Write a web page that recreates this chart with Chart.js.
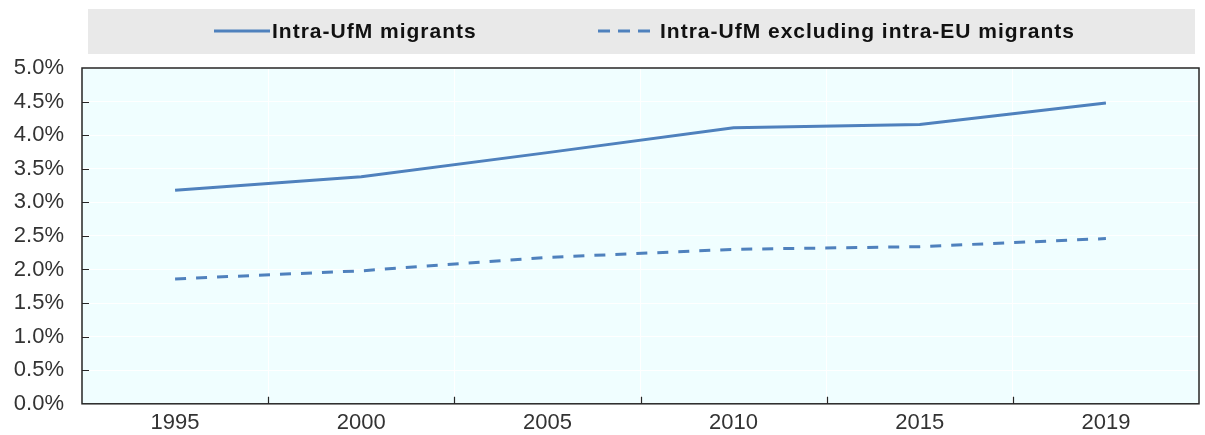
<!DOCTYPE html>
<html>
<head>
<meta charset="utf-8">
<script src="https://cdn.jsdelivr.net/npm/chart.js@4.4.1/dist/chart.umd.min.js"></script>
<style>
  html, body { margin: 0; padding: 0; background: #fff; }
  #wrap { width: 1205px; height: 435px; position: relative; }
</style>
</head>
<body>
<div id="wrap"><canvas id="myChart"></canvas></div>
<script>
const years = ["1995", "2000", "2005", "2010", "2015", "2019"];
const intraUfm = [3.18, 3.38, 3.74, 4.11, 4.16, 4.48];
const intraUfmExclEu = [1.86, 1.98, 2.18, 2.30, 2.34, 2.46];
const seriesLabels = ["Intra-UfM migrants", "Intra-UfM excluding intra-EU migrants"];
const yMin = 0;
const yMax = 5;
const yStep = 0.5;

const lineColor = "#4F81BD";
const textColor = "#333333";
const chartFont = "Liberation Sans, Arial, sans-serif";

// plot background, frame and the small inward tick marks
const frame = {
  id: "frame",
  beforeDraw(chart) {
    const { ctx, chartArea: a } = chart;
    ctx.save();
    ctx.fillStyle = "#F0FEFF";
    ctx.fillRect(a.left, a.top, a.right - a.left, a.bottom - a.top);
    ctx.restore();
  },
  afterDraw(chart) {
    const { ctx, chartArea: a, scales } = chart;
    ctx.save();
    ctx.strokeStyle = "#262626";
    ctx.lineWidth = 1.5;
    ctx.strokeRect(a.left, a.top, a.right - a.left, a.bottom - a.top);

    ctx.lineWidth = 1.2;
    ctx.beginPath();
    for (let v = yMin + yStep; v < yMax; v += yStep) {
      const y = Math.round(scales.y.getPixelForValue(v)) + 0.5;
      ctx.moveTo(a.left, y);
      ctx.lineTo(a.left + 7, y);
    }
    for (let i = 1; i < years.length; i++) {
      const x = Math.round((scales.x.getPixelForValue(i - 1) + scales.x.getPixelForValue(i)) / 2) + 0.5;
      ctx.moveTo(x, a.bottom);
      ctx.lineTo(x, a.bottom - 7);
    }
    ctx.stroke();
    ctx.restore();
  },
};

// grey legend band on top
const legendBand = {
  id: "legendBand",
  afterDraw(chart) {
    const { ctx } = chart;
    const items = [
      { start: 214, len: 56, dash: [], text: seriesLabels[0] },
      { start: 598, len: 52, dash: [12, 8], text: seriesLabels[1] },
    ];
    const midY = 31;
    ctx.save();
    ctx.fillStyle = "#E9E9E9";
    ctx.fillRect(88, 9, 1107, 45);
    items.forEach((item) => {
      ctx.strokeStyle = lineColor;
      ctx.lineWidth = 3;
      ctx.setLineDash(item.dash);
      ctx.beginPath();
      ctx.moveTo(item.start, midY);
      ctx.lineTo(item.start + item.len, midY);
      ctx.stroke();
      ctx.setLineDash([]);
      ctx.fillStyle = "#111111";
      ctx.font = "bold 21px " + chartFont;
      ctx.letterSpacing = "1px";
      ctx.textBaseline = "middle";
      ctx.textAlign = "left";
      ctx.fillText(item.text, item.start + item.len + (item.dash.length ? 10 : 2), midY + 1);
    });
    ctx.restore();
  },
};

const ctx = document.getElementById("myChart").getContext("2d");

new Chart(ctx, {
  type: "line",
  data: {
    labels: years,
    datasets: [
      {
        label: seriesLabels[0],
        data: intraUfm,
        borderColor: lineColor,
        borderWidth: 3,
        pointRadius: 0,
        tension: 0,
      },
      {
        label: seriesLabels[1],
        data: intraUfmExclEu,
        borderColor: lineColor,
        borderWidth: 3,
        borderDash: [11, 10],
        pointRadius: 0,
        tension: 0,
      },
    ],
  },
  options: {
    responsive: true,
    maintainAspectRatio: false,
    animation: false,
    layout: {
      padding: { top: 68, right: 6, bottom: 0, left: 0 },
    },
    scales: {
      x: {
        offset: true,
        border: { display: false },
        grid: {
          offset: true,
          color: "#FFFFFF",
          lineWidth: 1,
          drawTicks: false,
        },
        ticks: {
          color: textColor,
          padding: 6,
          maxRotation: 0,
          font: { family: chartFont, size: 22 },
        },
        afterFit(scale) {
          scale.height = 31;
        },
      },
      y: {
        min: yMin,
        max: yMax,
        border: { display: false },
        grid: {
          color: "#FFFFFF",
          lineWidth: 1,
          drawTicks: false,
        },
        ticks: {
          stepSize: yStep,
          color: textColor,
          padding: 18,
          font: { family: chartFont, size: 22 },
          callback: (value) => value.toFixed(1) + "%",
        },
        afterFit(scale) {
          scale.width = 82;
        },
      },
    },
    plugins: {
      legend: { display: false },
      tooltip: { enabled: false },
    },
  },
  plugins: [frame, legendBand],
});
</script>
</body>
</html>
